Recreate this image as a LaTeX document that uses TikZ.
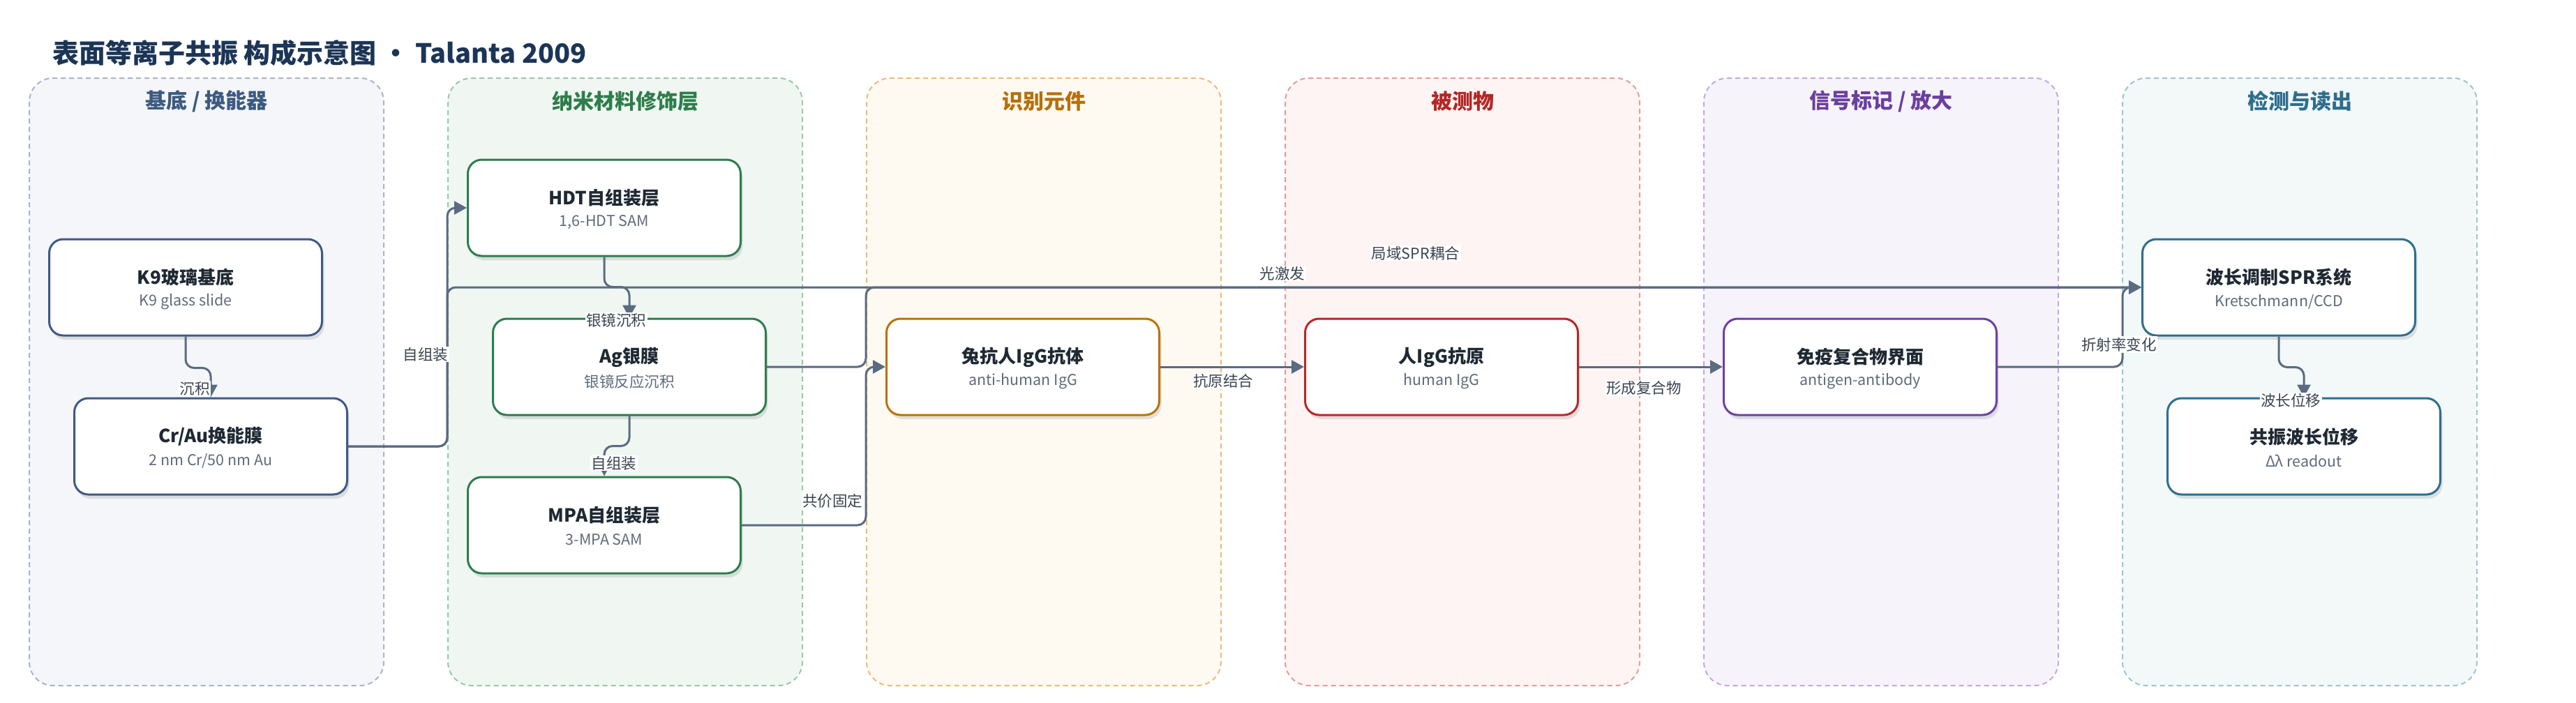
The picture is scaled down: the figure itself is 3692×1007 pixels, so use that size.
\documentclass[tikz,border=0pt]{standalone}
\usepackage{fontspec}
\setmainfont{Noto Sans CJK SC}
\usetikzlibrary{arrows.meta,shadows}
\definecolor{titlec}{HTML}{1B3556}
\definecolor{lAf}{HTML}{F4F6FA}\definecolor{lAb}{HTML}{A8B4C8}\definecolor{lAh}{HTML}{3D5A80}\definecolor{lAn}{HTML}{3F5A84}
\definecolor{lBf}{HTML}{F0F7F2}\definecolor{lBb}{HTML}{98C9A6}\definecolor{lBh}{HTML}{2E7D4B}\definecolor{lBn}{HTML}{2F7D4E}
\definecolor{lCf}{HTML}{FEF9F1}\definecolor{lCb}{HTML}{EBBB7C}\definecolor{lCh}{HTML}{B5700B}\definecolor{lCn}{HTML}{B8730E}
\definecolor{lDf}{HTML}{FDF4F3}\definecolor{lDb}{HTML}{E59C9C}\definecolor{lDh}{HTML}{B52626}\definecolor{lDn}{HTML}{B42A2A}
\definecolor{lEf}{HTML}{F7F3FB}\definecolor{lEb}{HTML}{C4A8E0}\definecolor{lEh}{HTML}{6A3FA0}\definecolor{lEn}{HTML}{6B42A3}
\definecolor{lFf}{HTML}{F3F8F9}\definecolor{lFb}{HTML}{9EC4CE}\definecolor{lFh}{HTML}{2E6D8E}\definecolor{lFn}{HTML}{2F6E8F}
\definecolor{edgec}{HTML}{5A6B82}
\definecolor{ttlc}{HTML}{1F2933}
\definecolor{subc}{HTML}{5F6B7A}
\definecolor{labc}{HTML}{3A4450}
\tikzset{
  lane/.style={rounded corners=34pt, line width=2pt, dash pattern=on 7pt off 5pt},
  hdr/.style={font=\fontsize{30}{34}\selectfont\bfseries},
  box/.style={draw, fill=white, rounded corners=20pt, line width=3pt,
    minimum width=391pt, minimum height=138pt, inner sep=0pt,
    drop shadow={shadow xshift=3pt, shadow yshift=-6pt, opacity=0.10, fill=black}},
  ttl/.style={font=\fontsize{26}{30}\selectfont\bfseries, text=ttlc},
  sub/.style={font=\fontsize{21.5}{25}\selectfont, text=subc},
  elabel/.style={fill=white, inner sep=1.5pt, font=\fontsize{21.5}{25}\selectfont, text=labc},
  edge/.style={draw=edgec, line width=3pt, rounded corners=12pt, -{Triangle[length=18pt,width=19pt]}}
}
\newcommand{\boxtext}[3]{%
  \node[ttl] at ([yshift=14pt]#1.center) {#2};
  \node[sub] at ([yshift=-21pt]#1.center) {#3};}
\begin{document}
\begin{tikzpicture}[x=1pt,y=-1pt]
\useasboundingbox[fill=white] (0,0) rectangle (3692,1007);
% title
\node[anchor=west, font=\fontsize{38}{44}\selectfont\bfseries, text=titlec, inner sep=0pt] (title) at (75,76) {表面等离子共振 构成示意图 · Talanta 2009};
% lanes
\draw[lane, draw=lAb, fill=lAf] (42,112) rectangle (550,983);
\draw[lane, draw=lBb, fill=lBf] (642,112) rectangle (1150,983);
\draw[lane, draw=lCb, fill=lCf] (1242,112) rectangle (1750,983);
\draw[lane, draw=lDb, fill=lDf] (1842,112) rectangle (2350,983);
\draw[lane, draw=lEb, fill=lEf] (2442,112) rectangle (2950,983);
\draw[lane, draw=lFb, fill=lFf] (3042,112) rectangle (3550,983);
\node[hdr, text=lAh] (hA) at (296,145) {基底 / 换能器};
\node[hdr, text=lBh] (hB) at (896,145) {纳米材料修饰层};
\node[hdr, text=lCh] (hC) at (1496,145) {识别元件};
\node[hdr, text=lDh] (hD) at (2096,145) {被测物};
\node[hdr, text=lEh] (hE) at (2696,145) {信号标记 / 放大};
\node[hdr, text=lFh] (hF) at (3296,145) {检测与读出};
% nodes
\node[box, draw=lAn] (k9) at (266,412) {};
\node[box, draw=lAn] (crau) at (302,640) {};
\node[box, draw=lBn] (hdt) at (866,298) {};
\node[box, draw=lBn] (ag) at (902,526) {};
\node[box, draw=lBn] (mpa) at (866,753) {};
\node[box, draw=lCn] (rab) at (1466,526) {};
\node[box, draw=lDn] (hig) at (2066,526) {};
\node[box, draw=lEn] (cpx) at (2666,526) {};
\node[box, draw=lFn] (spr) at (3266,412) {};
\node[box, draw=lFn] (rd) at (3302,640) {};
% edges
\draw[edge] (k9.south) -- ++(0,45) -| (crau.north);
\draw[edge] (crau.east) -- ++(142,0) |- (hdt.west);
\draw[edge] (crau.east) -- ++(142,0) |- (spr.west);
\draw[edge] (hdt.south) -- ++(0,43) -| (ag.north);
\draw[edge] (ag.east) -- ++(142,0) |- (spr.west);
\draw[edge] (ag.south) -- ++(0,43) -| (mpa.north);
\draw[edge] (mpa.east) -- ++(178,0) |- (rab.west);
\draw[edge] (rab.east) -- (hig.west);
\draw[edge] (hig.east) -- (cpx.west);
\draw[edge] (cpx.east) -- ++(179,0) |- (spr.west);
\draw[edge] (spr.south) -- ++(0,44) -| (rd.north);
% node texts
\boxtext{k9}{K9玻璃基底}{K9 glass slide}
\boxtext{crau}{Cr/Au换能膜}{2 nm Cr/50 nm Au}
\boxtext{hdt}{HDT自组装层}{1,6-HDT SAM}
\boxtext{ag}{Ag银膜}{银镜反应沉积}
\boxtext{mpa}{MPA自组装层}{3-MPA SAM}
\boxtext{rab}{兔抗人IgG抗体}{anti-human IgG}
\boxtext{hig}{人IgG抗原}{human IgG}
\boxtext{cpx}{免疫复合物界面}{antigen-antibody}
\boxtext{spr}{波长调制SPR系统}{Kretschmann/CCD}
\boxtext{rd}{共振波长位移}{Δλ readout}
% edge labels
\node[elabel] (e1) at (279,557) {沉积};
\node[elabel] (e2) at (610,508) {自组装};
\node[elabel] (e3) at (883,459) {银镜沉积};
\node[elabel] (e4) at (880,664) {自组装};
\node[elabel] (e5) at (1193,718) {共价固定};
\node[elabel] (e6) at (1838,392) {光激发};
\node[elabel] (e7) at (2029,363) {局域SPR耦合};
\node[elabel] (e8) at (1753,546) {抗原结合};
\node[elabel] (e9) at (2356,556) {形成复合物};
\node[elabel] (e10) at (3037,494) {折射率变化};
\node[elabel] (e11) at (3283,574) {波长位移};
\end{tikzpicture}
\end{document}
